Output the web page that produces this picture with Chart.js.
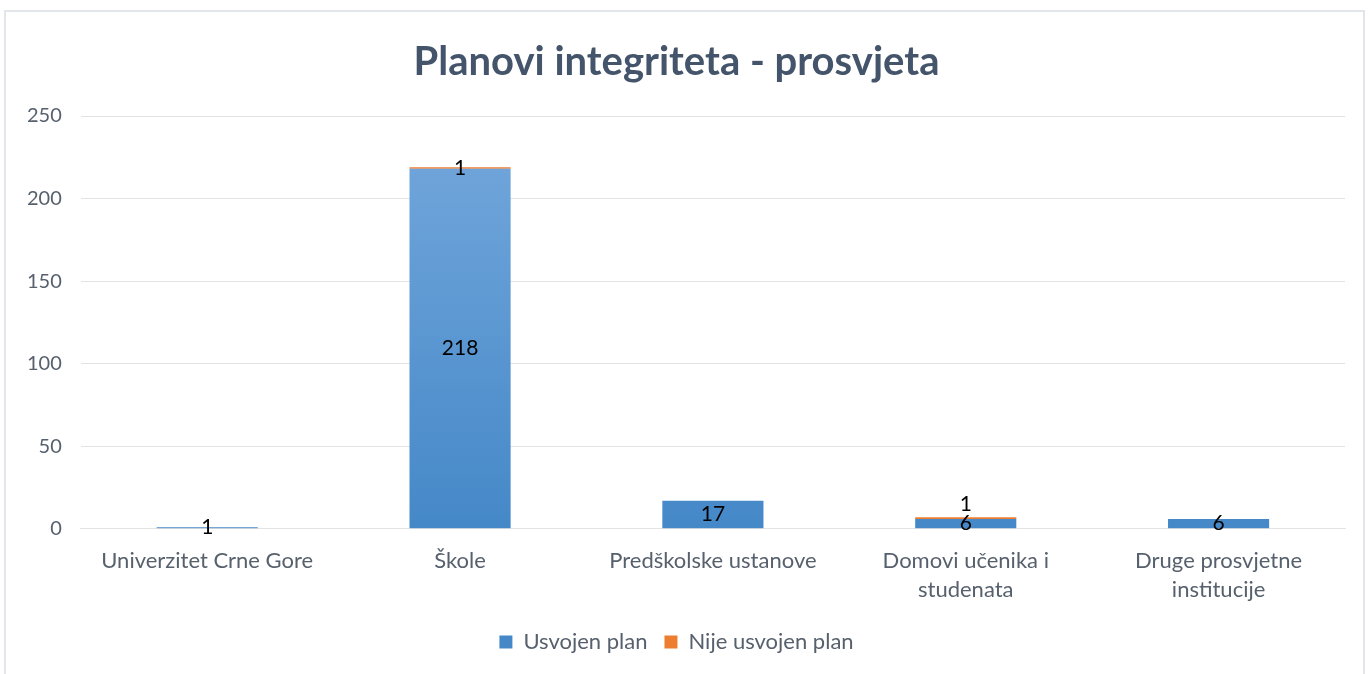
<!DOCTYPE html>
<html>
<head>
<meta charset="utf-8">
<script src="https://cdn.jsdelivr.net/npm/chart.js@4.4.1/dist/chart.umd.min.js"></script>
<style>
    body { margin: 0; background: #ffffff; }
    #wrap {
        position: absolute; left: 4px; top: 10px;
        width: 1361px; height: 680px;
        border: 2px solid #E2E5EA; box-sizing: border-box;
    }
    #canvasBox { position: absolute; left: 0; top: 0; width: 1357px; height: 662px; }
</style>
</head>
<body>
<div id="wrap"><div id="canvasBox"><canvas id="planChart"></canvas></div></div>
<script>
const categories = [
    "Univerzitet Crne Gore",
    "Škole",
    "Predškolske ustanove",
    ["Domovi učenika i", "studenata"],
    ["Druge prosvjetne", "institucije"]
];
const usvojenPlan = [1, 218, 17, 6, 6];
const nijeUsvojenPlan = [0, 1, 0, 1, 0];
const yTicks = [0, 50, 100, 150, 200, 250];

const fontName = "Lato, 'Open Sans', sans-serif";
const textGray = "#57606D";

// draws the value labels in the middle of each segment
const valueLabels = {
    id: "valueLabels",
    afterDatasetsDraw(chart) {
        const ctx = chart.ctx;
        ctx.save();
        ctx.font = "21px " + fontName;
        ctx.fillStyle = "#000000";
        ctx.textAlign = "center";
        ctx.textBaseline = "middle";
        const placed = [];
        chart.data.datasets.forEach((ds, di) => {
            const meta = chart.getDatasetMeta(di);
            meta.data.forEach((bar, i) => {
                const v = ds.data[i];
                if (!v) return;
                let y = (bar.y + bar.base) / 2;
                if (di > 0 && placed[i] !== undefined && placed[i] - y < 19) {
                    y = placed[i] - 19;
                }
                if (di === 0) placed[i] = y;
                ctx.fillText(String(v), bar.x, y);
            });
        });
        ctx.restore();
    }
};

function blueFill(c) {
    const area = c.chart.chartArea;
    if (!area) return "#5B9BD5";
    const g = c.chart.ctx.createLinearGradient(0, area.top, 0, area.bottom);
    g.addColorStop(0, "#74A8DC");
    g.addColorStop(1, "#4588C8");
    return g;
}

document.addEventListener("DOMContentLoaded", function() {
    const ctx = document.getElementById("planChart").getContext("2d");

    new Chart(ctx, {
        type: "bar",
        data: {
            labels: categories,
            datasets: [{
                label: "Usvojen plan",
                data: usvojenPlan,
                backgroundColor: blueFill,
                borderWidth: 0,
                categoryPercentage: 0.4,
                barPercentage: 1.0
            }, {
                label: "Nije usvojen plan",
                data: nijeUsvojenPlan,
                backgroundColor: "#ED7D31",
                borderWidth: 0,
                categoryPercentage: 0.4,
                barPercentage: 1.0
            }]
        },
        options: {
            responsive: true,
            maintainAspectRatio: false,
            animation: false,
            layout: { padding: { left: 2, right: 18, top: 8, bottom: 11 } },
            plugins: {
                title: {
                    display: true,
                    text: "Planovi integriteta - prosvjeta",
                    color: "#44546A",
                    font: { family: fontName, size: 40, weight: "bold" },
                    padding: { top: 18, bottom: 30 }
                },
                legend: {
                    position: "bottom",
                    labels: {
                        color: textGray,
                        font: { family: fontName, size: 22 },
                        boxWidth: 13,
                        boxHeight: 13,
                        padding: 17
                    }
                },
                tooltip: { enabled: false }
            },
            scales: {
                x: {
                    stacked: true,
                    grid: { display: false },
                    border: { color: "#E3E3E3", width: 1 },
                    ticks: {
                        color: textGray,
                        font: { family: fontName, size: 22, lineHeight: 1.3 },
                        padding: 10,
                        maxRotation: 0
                    }
                },
                y: {
                    stacked: true,
                    min: 0,
                    max: 250,
                    afterBuildTicks(axis) {
                        axis.ticks = yTicks.map(v => ({ value: v }));
                    },
                    grid: { color: "#E3E3E3", drawTicks: false },
                    border: { display: false },
                    ticks: {
                        color: textGray,
                        font: { family: fontName, size: 20 },
                        padding: 19
                    }
                }
            }
        },
        plugins: [valueLabels]
    });
});
</script>
</body>
</html>
